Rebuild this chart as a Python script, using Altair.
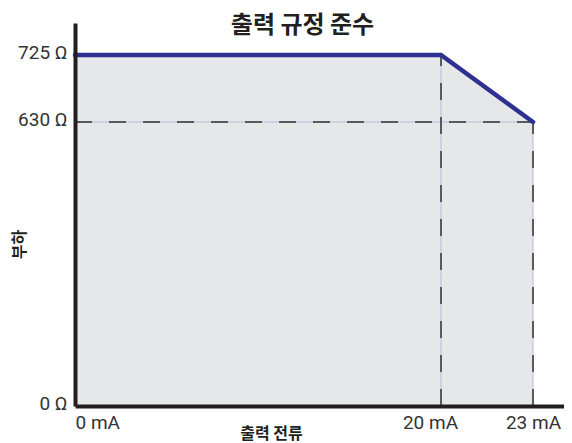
import altair as alt
import pandas as pd

# data
current_ma = [0, 20, 23]
load_ohm = [725, 725, 630]
x_ticks = [0, 20, 23]
y_ticks = [0, 630, 725]
title_text = "출력 규정 준수"
x_title = "출력 전류"
y_title = "부하"

# reference guide segments (x, y) -> (x2, y2)
guide_x = [0, 20, 23]
guide_x2 = [23, 20, 23]
guide_y = [630, 0, 0]
guide_y2 = [630, 725, 630]

curve = pd.DataFrame({"x": current_ma, "y": load_ohm})
guides = pd.DataFrame({"x": guide_x, "x2": guide_x2, "y": guide_y, "y2": guide_y2})

xscale = alt.Scale(domain=[0, 20, 23, 24], range=[0, 366, 458, 489], nice=False, zero=False)
yscale = alt.Scale(domain=[0, 630, 725, 770], range=[383, 99, 32, 0], nice=False, zero=False)

x_axis = alt.Axis(
    values=x_ticks, labelExpr="datum.value + ' mA'", ticks=False, grid=False,
    domainColor="#231f20", domainWidth=4, zindex=1,
    labelFont="Roboto", labelFontSize=19, labelColor="#333333", labelPadding=7,
    labelFlush=False, labelOverlap=False,
    labelAlign={"expr": "datum.value == 0 ? 'left' : 'center'"},
    labelOffset={"expr": "datum.value == 20 ? -11 : 0"},
    title=x_title, titleFont="Noto Sans CJK KR", titleFontWeight="bold", titleFontSize=16,
    titleColor="#231f20", titleX=196, titleY=27, titleAlign="center", titleBaseline="middle",
)
y_axis = alt.Axis(
    values=y_ticks, labelExpr="datum.value + ' Ω'", ticks=False, grid=False,
    domainColor="#231f20", domainWidth=4, zindex=1,
    labelFont="Roboto", labelFontSize=19, labelColor="#333333", labelPadding=8,
    labelOverlap=False, labelFlush=False, labelOffset=-3,
    title=y_title, titleFont="Noto Sans CJK KR", titleFontWeight="bold", titleFontSize=16,
    titleColor="#231f20", titleX=-56, titleY=221, titleAlign="center", titleBaseline="middle",
    titleAngle=270,
)

area = alt.Chart(curve).mark_area(color="#e6e7e9", opacity=1).encode(
    x=alt.X("x:Q", scale=xscale, axis=x_axis),
    y=alt.Y("y:Q", scale=yscale, axis=y_axis),
)

guide_base = alt.Chart(guides).encode(
    x=alt.X("x:Q", scale=xscale),
    x2="x2:Q",
    y=alt.Y("y:Q", scale=yscale),
    y2="y2:Q",
)
guide_solid = guide_base.mark_rule(color="#b3bcdc", strokeWidth=1)
guide_dash = guide_base.mark_rule(color="#333333", strokeWidth=1.5, strokeDash=[17, 17])

line = alt.Chart(curve).mark_line(color="#2e3192", strokeWidth=4.5, strokeCap="round").encode(
    x=alt.X("x:Q", scale=xscale),
    y=alt.Y("y:Q", scale=yscale),
)

chart = alt.layer(area, guide_solid, guide_dash, line).properties(
    width=489, height=383,
    autosize=alt.AutoSizeParams(type="none"),
    padding={"left": 67, "top": 15, "right": 0, "bottom": 36},
    title=alt.TitleParams(
        text=title_text, font="Noto Sans CJK KR", fontWeight="bold", fontSize=24,
        color="#231f20", anchor="middle", baseline="middle", offset=-27, dx=-17,
    ),
).configure_view(stroke=None)

chart.save("out.html", embed_options={"renderer": "svg", "actions": False})
